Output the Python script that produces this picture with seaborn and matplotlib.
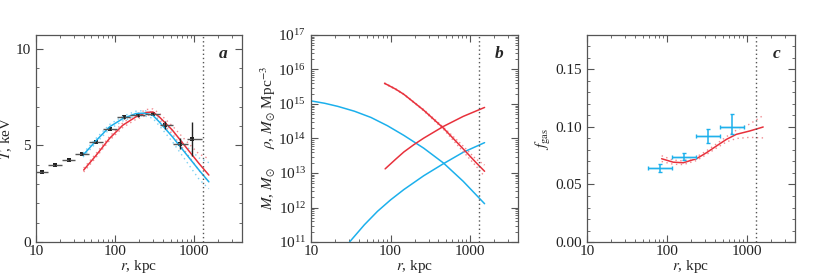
import numpy as np
import pandas as pd
import matplotlib
matplotlib.use("Agg")
import matplotlib.pyplot as plt
import seaborn as sns
from matplotlib.ticker import LogLocator, MultipleLocator, FixedLocator, NullFormatter

# ---------------- data ----------------
# Panel a: temperature profile (black points)
t_r_mid = [12, 17.5, 26, 38.5, 57.7, 86.5, 131, 192, 297, 428, 653, 942]
t_r_lo = [10, 14, 21, 31, 47, 70, 106, 156, 240, 367, 543, 813]
t_r_hi = [14, 21, 31, 47, 70, 106, 156, 240, 367, 543, 824, 1260]
t_val = [3.60, 3.97, 4.22, 4.54, 5.16, 5.85, 6.44, 6.54, 6.64, 6.04, 5.08, 5.32]
t_err = [0.04, 0.06, 0.05, 0.05, 0.05, 0.07, 0.08, 0.08, 0.10, 0.20, 0.28, 0.88]

# Panel a: model curves
ta_red_r = [40, 57.7, 84.7, 125, 183, 250, 300, 360, 528, 776, 1143, 1524]
ta_red_T = [3.72, 4.49, 5.35, 6.04, 6.47, 6.70, 6.72, 6.47, 5.78, 4.92, 4.06, 3.46]
ta_red_up = [3.82, 4.59, 5.45, 6.16, 6.60, 6.85, 6.88, 6.65, 6.00, 5.25, 4.55, 4.30]
ta_red_dn = [3.62, 4.39, 5.25, 5.92, 6.34, 6.55, 6.56, 6.30, 5.58, 4.65, 3.70, 3.10]
ta_cyan_r = [39.3, 57.7, 84.7, 125, 183, 230, 297, 360, 528, 776, 1143, 1524]
ta_cyan_T = [4.49, 5.25, 5.95, 6.38, 6.64, 6.66, 6.56, 6.21, 5.44, 4.58, 3.72, 3.11]
ta_cyan_up = [4.59, 5.37, 6.07, 6.50, 6.76, 6.79, 6.72, 6.42, 5.72, 4.98, 4.35, 4.10]
ta_cyan_dn = [4.39, 5.13, 5.83, 6.26, 6.52, 6.53, 6.40, 6.02, 5.18, 4.22, 3.25, 2.75]

# Panel b: mass and density profiles (log10 values)
b_cyan_rho_r = [10, 14.9, 21.8, 35.2, 56.7, 91.4, 147, 261, 462, 818, 1520]
b_cyan_rho = [15.09, 15.02, 14.93, 14.79, 14.61, 14.37, 14.09, 13.72, 13.29, 12.76, 12.11]
b_cyan_m_r = [30.5, 46.9, 68.6, 100, 147, 261, 462, 818, 1520]
b_cyan_m = [11.0, 11.50, 11.89, 12.22, 12.52, 12.92, 13.27, 13.60, 13.88]
b_red_rho_r = [84, 116, 147, 196, 261, 462, 818, 1178, 1520]
b_red_rho = [15.60, 15.43, 15.28, 15.05, 14.82, 14.30, 13.70, 13.31, 13.05]
b_red_rho_up = [15.61, 15.44, 15.29, 15.06, 14.84, 14.33, 13.78, 13.41, 13.23]
b_red_rho_dn = [15.59, 15.42, 15.27, 15.04, 14.80, 14.27, 13.62, 13.21, 12.90]
b_red_m_r = [85.5, 116, 147, 196, 261, 462, 818, 1520]
b_red_m = [13.12, 13.40, 13.61, 13.82, 14.01, 14.35, 14.64, 14.90]

# Panel c: gas fraction
f_r_mid = [81.8, 164, 327, 650]
f_r_lo = [58.5, 116, 233, 466]
f_r_hi = [116, 233, 466, 930]
f_val = [0.0642, 0.0741, 0.0921, 0.1003]
f_err_lo = [0.0031, 0.0029, 0.0064, 0.0067]
f_err_hi = [0.0038, 0.0029, 0.0065, 0.0107]
fc_r = [85.9, 120, 160, 234, 312, 415, 554, 738, 1082, 1600]
fc_f = [0.0724, 0.0694, 0.0689, 0.0724, 0.0776, 0.0834, 0.0892, 0.0936, 0.0965, 0.1000]
fc_up = [0.0750, 0.0712, 0.0705, 0.0740, 0.0792, 0.0852, 0.0915, 0.0972, 0.1025, 0.1100]
fc_dn = [0.0700, 0.0676, 0.0673, 0.0708, 0.0760, 0.0816, 0.0870, 0.0900, 0.0910, 0.0905]

r_vir = 1300

# ---------------- style ----------------
sns.set_style("ticks")
plt.rcParams["font.family"] = ["Liberation Serif", "DejaVu Serif"]
plt.rcParams["mathtext.fontset"] = "stix"
plt.rcParams["xtick.direction"] = "in"
plt.rcParams["ytick.direction"] = "in"
plt.rcParams["xtick.top"] = True
plt.rcParams["ytick.right"] = True
plt.rcParams["axes.edgecolor"] = "#555555"
plt.rcParams["axes.linewidth"] = 0.9
plt.rcParams["xtick.color"] = "#555555"
plt.rcParams["ytick.color"] = "#555555"
plt.rcParams["xtick.labelcolor"] = "#222222"
plt.rcParams["ytick.labelcolor"] = "#222222"

FS = 11
RED = "#e8313c"
CYAN = "#1cb0ec"
RED_L = "#f08a90"
CYAN_L = "#7fd0f2"

fig = plt.figure(figsize=(8.3, 2.79), dpi=100)
axa = fig.add_axes([0.0434, 0.1326, 0.2482, 0.742])
axb = fig.add_axes([0.3747, 0.1326, 0.2494, 0.742])
axc = fig.add_axes([0.7072, 0.1326, 0.2506, 0.742])


def line(ax, x, y, color, lw=1.1, ls="-"):
    df = pd.DataFrame({"r": x, "v": y})
    sns.lineplot(data=df, x="r", y="v", ax=ax, color=color, lw=lw, ls=ls,
                 sort=False, estimator=None, legend=False)


def style_xaxis(ax):
    ax.set_xscale("log")
    ax.set_xlim(10, 4000)
    ax.xaxis.set_major_locator(FixedLocator([10, 100, 1000]))
    ax.xaxis.set_minor_locator(LogLocator(base=10, subs=np.arange(2, 10), numticks=20))
    ax.xaxis.set_minor_formatter(NullFormatter())
    ax.set_xticklabels(["10", "100", "1000"])
    ax.set_xlabel("$r$, kpc", fontsize=FS, labelpad=0)
    ax.tick_params(which="major", length=5, width=0.8, labelsize=FS, pad=2.5)
    ax.tick_params(which="minor", length=2.5, width=0.6)
    ax.axvline(r_vir, color="#555555", ls=(0, (1, 2)), lw=1)


# ---- panel a ----
line(axa, ta_red_r, ta_red_up, RED_L, lw=1.0, ls=(0, (1, 2.5)))
line(axa, ta_red_r, ta_red_dn, RED_L, lw=1.0, ls=(0, (1, 2.5)))
line(axa, ta_cyan_r, ta_cyan_up, CYAN_L, lw=1.0, ls=(0, (1, 2.5)))
line(axa, ta_cyan_r, ta_cyan_dn, CYAN_L, lw=1.0, ls=(0, (1, 2.5)))
line(axa, ta_red_r, ta_red_T, RED)
line(axa, ta_cyan_r, ta_cyan_T, CYAN)
xerr_a = [np.array(t_r_mid) - np.array(t_r_lo), np.array(t_r_hi) - np.array(t_r_mid)]
axa.errorbar(t_r_mid, t_val, xerr=xerr_a, fmt="none", ecolor="#555555", elinewidth=1.0, capsize=0)
axa.errorbar(t_r_mid, t_val, yerr=t_err, fmt="none", ecolor="#222222", elinewidth=1.0, capsize=0)
sns.scatterplot(x=t_r_mid, y=t_val, ax=axa, color="#222222", s=5, marker="s", linewidth=0)
style_xaxis(axa)
axa.set_ylim(0, 10.7)
axa.yaxis.set_major_locator(FixedLocator([0, 5, 10]))
axa.yaxis.set_minor_locator(MultipleLocator(1))
axa.set_ylabel("$T$, keV", fontsize=FS)
axa.yaxis.set_label_coords(-0.105, 0.5)
axa.text(0.91, 0.91, "a", transform=axa.transAxes, fontsize=12.5,
         fontweight="bold", fontstyle="italic", ha="center", va="center")

# ---- panel b ----
line(axb, b_cyan_rho_r, 10 ** np.array(b_cyan_rho), CYAN)
line(axb, b_cyan_m_r, 10 ** np.array(b_cyan_m), CYAN)
line(axb, b_red_rho_r, 10 ** np.array(b_red_rho_up), RED_L, lw=1.0, ls=(0, (1, 2)))
line(axb, b_red_rho_r, 10 ** np.array(b_red_rho_dn), RED_L, lw=1.0, ls=(0, (1, 2)))
line(axb, b_red_rho_r, 10 ** np.array(b_red_rho), RED)
line(axb, b_red_m_r, 10 ** np.array(b_red_m), RED)
axb.set_yscale("log")
style_xaxis(axb)
axb.set_ylim(1e11, 1e17)
axb.yaxis.set_major_locator(LogLocator(base=10, numticks=20))
axb.yaxis.set_minor_locator(LogLocator(base=10, subs=np.arange(2, 10), numticks=20))
axb.yaxis.set_minor_formatter(NullFormatter())
axb.set_ylabel(r"$M$, $M_{\odot}$     $\rho$, $M_{\odot}$ Mpc$^{-3}$", fontsize=FS, labelpad=0)
axb.text(0.91, 0.91, "b", transform=axb.transAxes, fontsize=12.5,
         fontweight="bold", fontstyle="italic", ha="center", va="center")

# ---- panel c ----
line(axc, fc_r, fc_up, RED_L, lw=1.0, ls=(0, (1, 2.5)))
line(axc, fc_r, fc_dn, RED_L, lw=1.0, ls=(0, (1, 2.5)))
line(axc, fc_r, fc_f, RED)
xerr_c = [np.array(f_r_mid) - np.array(f_r_lo), np.array(f_r_hi) - np.array(f_r_mid)]
axc.errorbar(f_r_mid, f_val, xerr=xerr_c, fmt="none", ecolor="#a6dff6", elinewidth=2.0, capsize=0)
axc.errorbar(f_r_mid, f_val, xerr=xerr_c, fmt="none", ecolor=CYAN, elinewidth=0.7, capsize=1.5)
axc.errorbar(f_r_mid, f_val, yerr=[f_err_lo, f_err_hi], fmt="none", ecolor=CYAN,
             elinewidth=1.1, capsize=1.5)
style_xaxis(axc)
axc.set_ylim(0, 0.18)
axc.yaxis.set_major_locator(FixedLocator([0, 0.05, 0.10, 0.15]))
axc.set_yticklabels(["0.00", "0.05", "0.10", "0.15"])
axc.yaxis.set_minor_locator(MultipleLocator(0.01))
axc.set_ylabel("$f_{\\mathrm{gas}}$", fontsize=FS, labelpad=2)
axc.text(0.91, 0.91, "c", transform=axc.transAxes, fontsize=12.5,
         fontweight="bold", fontstyle="italic", ha="center", va="center")

for ax in (axa, axb, axc):
    ax.tick_params(axis="y", which="major", length=5, width=0.8, labelsize=FS, pad=3.5)
    ax.tick_params(axis="y", which="minor", length=2.5, width=0.6)

fig.savefig("out.png", dpi=100)
